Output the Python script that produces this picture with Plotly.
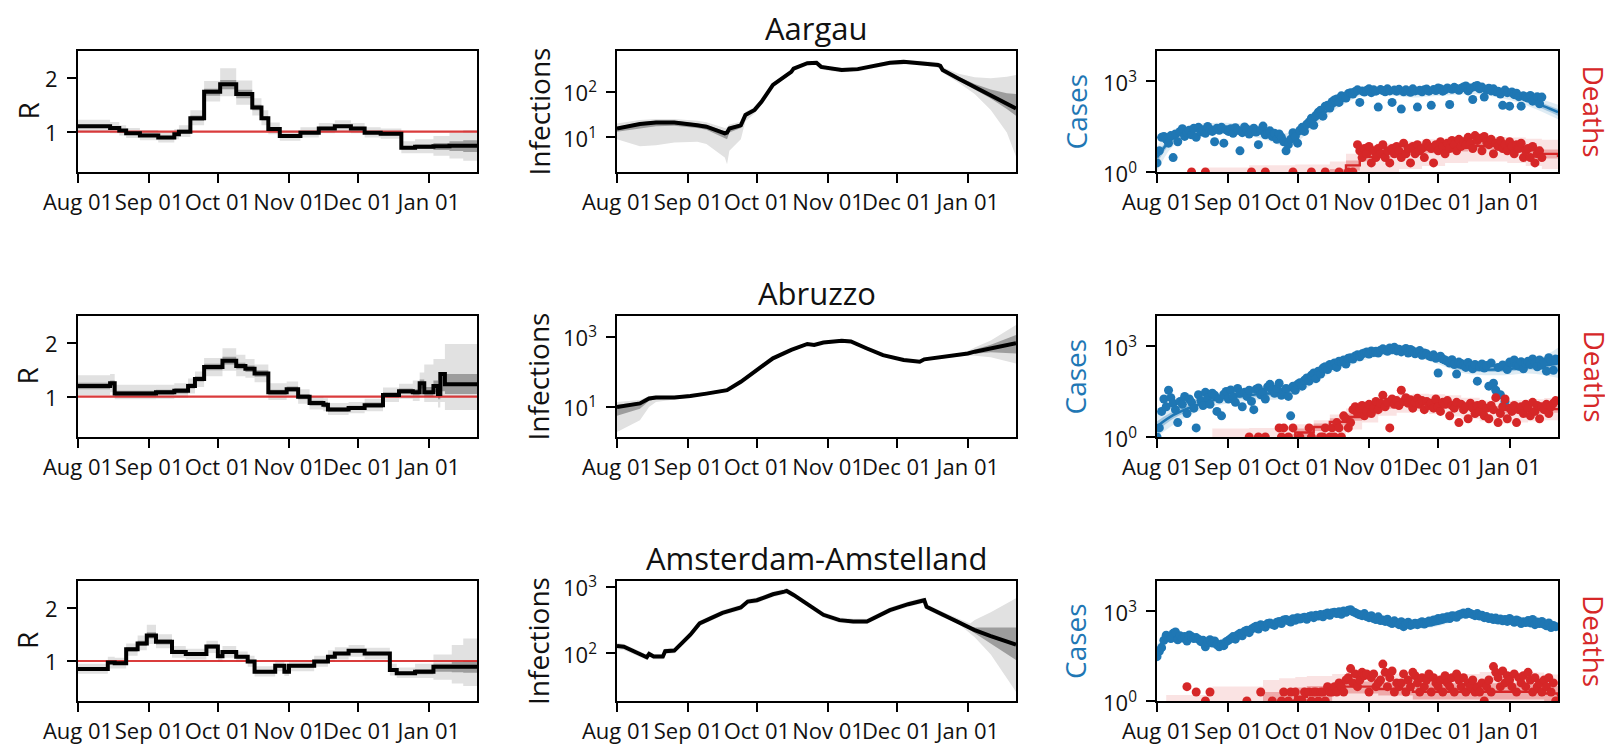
import numpy as np
import pandas as pd
import plotly.graph_objects as go

# ---------------------------------------------------------------- data
X_START, X_END = "2020-08-01", "2021-01-22"
month_ticks = ["2020-08-01", "2020-09-01", "2020-10-01", "2020-11-01", "2020-12-01", "2021-01-01"]
month_labels = ["Aug 01", "Sep 01", "Oct 01", "Nov 01", "Dec 01", "Jan 01"]
regions = ["Aargau", "Abruzzo", "Amsterdam-Amstelland"]
R_THRESHOLD = 1.0

# --- R (step knots: day offset from Aug 01)
aargau_R_day = [0, 14, 18, 21, 27, 35, 42, 44, 49, 55, 62, 69, 76, 80, 83, 88, 97, 105, 112, 119, 125, 132, 141, 147, 155, 162, 168, 174]
aargau_R_med = [1.10, 1.07, 1.02, 0.97, 0.93, 0.89, 0.95, 1.00, 1.25, 1.74, 1.88, 1.70, 1.45, 1.25, 1.05, 0.92, 0.98, 1.06, 1.10, 1.06, 0.98, 0.96, 0.70, 0.72, 0.73, 0.74, 0.74, 0.74]
aargau_R_hi95 = [1.22, 1.18, 1.12, 1.07, 1.03, 0.99, 1.05, 1.12, 1.40, 1.94, 2.18, 1.95, 1.62, 1.40, 1.17, 1.02, 1.08, 1.16, 1.21, 1.16, 1.08, 1.06, 0.82, 0.86, 0.92, 0.98, 1.03, 1.03]
aargau_R_lo95 = [0.99, 0.97, 0.93, 0.88, 0.84, 0.80, 0.86, 0.90, 1.12, 1.56, 1.66, 1.50, 1.30, 1.12, 0.95, 0.83, 0.89, 0.97, 1.00, 0.97, 0.89, 0.87, 0.60, 0.60, 0.55, 0.50, 0.46, 0.46]
aargau_R_hi50 = [1.13, 1.10, 1.05, 1.00, 0.96, 0.92, 0.98, 1.04, 1.30, 1.80, 1.96, 1.78, 1.50, 1.29, 1.08, 0.95, 1.01, 1.09, 1.13, 1.09, 1.01, 0.99, 0.73, 0.76, 0.79, 0.82, 0.84, 0.84]
aargau_R_lo50 = [1.07, 1.04, 0.99, 0.94, 0.90, 0.86, 0.92, 0.97, 1.20, 1.67, 1.79, 1.62, 1.40, 1.21, 1.02, 0.89, 0.95, 1.03, 1.07, 1.03, 0.95, 0.93, 0.67, 0.68, 0.66, 0.64, 0.62, 0.62]

abruzzo_R_day = [0, 14, 16, 34, 42, 48, 51, 55, 63, 69, 73, 77, 83, 91, 96, 101, 107, 109, 118, 125, 133, 140, 146, 149, 151, 155, 157, 158, 160, 168, 174]
abruzzo_R_med = [1.20, 1.25, 1.06, 1.08, 1.11, 1.20, 1.33, 1.55, 1.67, 1.57, 1.52, 1.43, 1.08, 1.14, 1.00, 0.88, 0.85, 0.76, 0.79, 0.84, 1.03, 1.10, 1.08, 1.25, 1.08, 1.20, 1.05, 1.42, 1.23, 1.23, 1.23]
abruzzo_R_hi95 = [1.40, 1.42, 1.22, 1.22, 1.25, 1.34, 1.47, 1.72, 1.90, 1.78, 1.70, 1.60, 1.25, 1.28, 1.14, 1.00, 0.97, 0.88, 0.90, 0.96, 1.17, 1.24, 1.30, 1.45, 1.60, 1.70, 1.70, 1.70, 1.98, 1.98, 1.98]
abruzzo_R_lo95 = [1.03, 1.08, 0.95, 0.96, 0.98, 1.06, 1.18, 1.38, 1.48, 1.38, 1.35, 1.27, 0.94, 1.00, 0.87, 0.76, 0.73, 0.66, 0.69, 0.73, 0.90, 0.96, 0.92, 1.00, 0.90, 0.90, 0.80, 0.90, 0.75, 0.75, 0.75]
abruzzo_R_hi50 = [1.26, 1.30, 1.11, 1.13, 1.16, 1.25, 1.38, 1.61, 1.74, 1.63, 1.58, 1.49, 1.13, 1.19, 1.05, 0.93, 0.90, 0.80, 0.83, 0.89, 1.08, 1.15, 1.14, 1.32, 1.18, 1.30, 1.20, 1.45, 1.42, 1.42, 1.42]
abruzzo_R_lo50 = [1.14, 1.19, 1.01, 1.03, 1.06, 1.15, 1.28, 1.49, 1.60, 1.51, 1.46, 1.37, 1.03, 1.09, 0.95, 0.83, 0.80, 0.72, 0.75, 0.79, 0.98, 1.05, 1.02, 1.15, 1.00, 1.08, 0.95, 1.10, 1.05, 1.05, 1.05]

amsterdam_R_day = [0, 13, 16, 21, 26, 30, 34, 41, 47, 56, 61, 63, 69, 74, 77, 86, 90, 92, 103, 109, 112, 118, 125, 136, 139, 147, 155, 163, 168, 174]
amsterdam_R_med = [0.85, 0.97, 0.96, 1.22, 1.33, 1.48, 1.36, 1.17, 1.13, 1.27, 1.09, 1.17, 1.08, 0.99, 0.80, 0.91, 0.80, 0.91, 0.99, 1.08, 1.14, 1.19, 1.14, 0.83, 0.77, 0.80, 0.89, 0.89, 0.89, 0.89]
amsterdam_R_hi95 = [0.95, 1.08, 1.06, 1.33, 1.48, 1.68, 1.50, 1.28, 1.23, 1.38, 1.20, 1.28, 1.18, 1.10, 0.90, 1.01, 0.92, 1.02, 1.10, 1.20, 1.26, 1.30, 1.25, 0.95, 0.88, 0.95, 1.12, 1.30, 1.42, 1.42]
amsterdam_R_lo95 = [0.76, 0.86, 0.86, 1.10, 1.20, 1.32, 1.24, 1.06, 1.03, 1.15, 0.98, 1.06, 0.98, 0.89, 0.71, 0.81, 0.72, 0.81, 0.89, 0.98, 1.03, 1.08, 1.03, 0.73, 0.68, 0.68, 0.65, 0.58, 0.53, 0.53]
amsterdam_R_hi50 = [0.88, 1.00, 0.99, 1.26, 1.38, 1.54, 1.41, 1.21, 1.16, 1.31, 1.12, 1.20, 1.11, 1.02, 0.83, 0.94, 0.83, 0.94, 1.02, 1.11, 1.17, 1.22, 1.17, 0.86, 0.80, 0.85, 0.95, 0.98, 1.00, 1.00]
amsterdam_R_lo50 = [0.82, 0.94, 0.93, 1.18, 1.28, 1.42, 1.31, 1.13, 1.10, 1.23, 1.06, 1.14, 1.05, 0.96, 0.77, 0.88, 0.77, 0.88, 0.96, 1.05, 1.11, 1.16, 1.11, 0.80, 0.74, 0.75, 0.80, 0.79, 0.78, 0.78]

# --- Infections (log10 values at knots)
aargau_inf_day = [0, 10, 17, 25, 35, 39, 47, 48, 49, 54, 56, 60, 63, 68, 76, 77, 83, 87, 89, 93, 98, 105, 112, 119, 125, 134, 140, 141, 142, 149, 156, 163, 170, 174]
aargau_inf_med = [1.19, 1.29, 1.32, 1.32, 1.26, 1.23, 1.08, 1.10, 1.19, 1.26, 1.49, 1.60, 1.78, 2.15, 2.44, 2.51, 2.63, 2.64, 2.55, 2.51, 2.48, 2.50, 2.57, 2.64, 2.66, 2.63, 2.59, 2.57, 2.48, 2.29, 2.10, 1.93, 1.74, 1.63]
aargau_inf_hi95 = [1.30, 1.38, 1.40, 1.40, 1.36, 1.33, 1.20, 1.21, 1.28, 1.34, 1.56, 1.66, 1.84, 2.20, 2.48, 2.56, 2.67, 2.68, 2.60, 2.56, 2.53, 2.55, 2.62, 2.68, 2.70, 2.68, 2.65, 2.63, 2.54, 2.40, 2.32, 2.30, 2.33, 2.37]
aargau_inf_lo95 = [0.95, 0.80, 0.82, 0.88, 0.90, 0.85, 0.55, 0.40, 0.70, 0.95, 1.35, 1.52, 1.72, 2.10, 2.39, 2.46, 2.58, 2.59, 2.50, 2.46, 2.43, 2.45, 2.52, 2.59, 2.61, 2.58, 2.53, 2.50, 2.42, 2.20, 1.95, 1.60, 1.10, 0.57]
aargau_inf_hi50 = [1.23, 1.33, 1.36, 1.36, 1.30, 1.27, 1.13, 1.14, 1.23, 1.30, 1.52, 1.63, 1.81, 2.18, 2.47, 2.54, 2.66, 2.67, 2.58, 2.54, 2.51, 2.53, 2.60, 2.67, 2.69, 2.66, 2.62, 2.60, 2.51, 2.33, 2.17, 2.05, 1.97, 1.95]
aargau_inf_lo50 = [1.12, 1.20, 1.24, 1.25, 1.20, 1.16, 0.98, 0.95, 1.10, 1.20, 1.45, 1.57, 1.75, 2.12, 2.41, 2.48, 2.60, 2.61, 2.52, 2.48, 2.45, 2.47, 2.54, 2.61, 2.63, 2.60, 2.56, 2.54, 2.45, 2.25, 2.04, 1.85, 1.62, 1.47]

abruzzo_inf_day = [0, 10, 14, 17, 25, 32, 39, 48, 54, 61, 68, 76, 83, 86, 90, 98, 102, 109, 116, 125, 132, 134, 141, 149, 153, 156, 163, 174]
abruzzo_inf_med = [1.00, 1.10, 1.24, 1.27, 1.27, 1.31, 1.38, 1.48, 1.72, 2.05, 2.39, 2.63, 2.80, 2.77, 2.84, 2.89, 2.87, 2.67, 2.48, 2.34, 2.29, 2.36, 2.42, 2.48, 2.53, 2.58, 2.67, 2.82]
abruzzo_inf_hi95 = [1.14, 1.20, 1.31, 1.33, 1.32, 1.36, 1.43, 1.53, 1.77, 2.09, 2.43, 2.67, 2.84, 2.81, 2.88, 2.93, 2.91, 2.71, 2.52, 2.38, 2.33, 2.40, 2.46, 2.52, 2.60, 2.70, 2.90, 3.34]
abruzzo_inf_lo95 = [0.28, 0.62, 1.00, 1.14, 1.21, 1.26, 1.33, 1.43, 1.67, 2.00, 2.35, 2.59, 2.76, 2.73, 2.80, 2.85, 2.83, 2.63, 2.44, 2.30, 2.25, 2.32, 2.38, 2.44, 2.47, 2.46, 2.42, 2.24]
abruzzo_inf_hi50 = [1.06, 1.14, 1.27, 1.30, 1.30, 1.34, 1.41, 1.51, 1.75, 2.08, 2.42, 2.66, 2.83, 2.80, 2.87, 2.92, 2.90, 2.70, 2.51, 2.37, 2.32, 2.39, 2.45, 2.51, 2.56, 2.64, 2.78, 3.06]
abruzzo_inf_lo50 = [0.75, 0.95, 1.18, 1.22, 1.24, 1.28, 1.35, 1.45, 1.69, 2.02, 2.36, 2.60, 2.77, 2.74, 2.81, 2.86, 2.84, 2.64, 2.45, 2.31, 2.26, 2.33, 2.39, 2.45, 2.50, 2.52, 2.56, 2.53]

amsterdam_inf_day = [0, 3, 13, 14, 16, 20, 21, 25, 32, 36, 41, 46, 54, 57, 61, 68, 73, 74, 77, 83, 90, 97, 103, 109, 112, 119, 127, 134, 135, 141, 149, 154, 156, 163, 174]
amsterdam_inf_med = [2.11, 2.10, 1.94, 1.99, 1.95, 1.95, 2.03, 2.04, 2.28, 2.45, 2.53, 2.61, 2.69, 2.78, 2.80, 2.89, 2.93, 2.94, 2.88, 2.74, 2.58, 2.50, 2.48, 2.48, 2.53, 2.65, 2.74, 2.80, 2.70, 2.60, 2.48, 2.38, 2.35, 2.26, 2.13]
amsterdam_inf_hi95 = [2.16, 2.14, 1.98, 2.03, 1.99, 1.99, 2.07, 2.08, 2.32, 2.49, 2.57, 2.65, 2.73, 2.82, 2.84, 2.93, 2.97, 2.98, 2.92, 2.78, 2.62, 2.54, 2.52, 2.52, 2.57, 2.69, 2.78, 2.84, 2.74, 2.64, 2.52, 2.45, 2.50, 2.62, 2.83]
amsterdam_inf_lo95 = [2.06, 2.05, 1.90, 1.95, 1.91, 1.91, 1.99, 2.00, 2.24, 2.41, 2.49, 2.57, 2.65, 2.74, 2.76, 2.85, 2.89, 2.90, 2.84, 2.70, 2.54, 2.46, 2.44, 2.44, 2.49, 2.61, 2.70, 2.76, 2.66, 2.56, 2.44, 2.30, 2.24, 1.98, 1.42]
amsterdam_inf_hi50 = [2.13, 2.12, 1.96, 2.01, 1.97, 1.97, 2.05, 2.06, 2.30, 2.47, 2.55, 2.63, 2.71, 2.80, 2.82, 2.91, 2.95, 2.96, 2.90, 2.76, 2.60, 2.52, 2.50, 2.50, 2.55, 2.67, 2.76, 2.82, 2.72, 2.62, 2.50, 2.39, 2.39, 2.39, 2.39]
amsterdam_inf_lo50 = [2.09, 2.08, 1.92, 1.97, 1.93, 1.93, 2.01, 2.02, 2.26, 2.43, 2.51, 2.59, 2.67, 2.76, 2.78, 2.87, 2.91, 2.92, 2.86, 2.72, 2.56, 2.48, 2.46, 2.46, 2.51, 2.63, 2.72, 2.78, 2.68, 2.58, 2.46, 2.35, 2.30, 2.14, 1.90]

# --- Fitted cases (log10 at knots)
aargau_cfit_day = [0, 6, 13, 24, 39, 47, 56, 60, 67, 75, 82, 89, 96, 104, 111, 118, 125, 132, 140, 147, 154, 161, 168, 174]
aargau_cfit_med = [0.48, 1.05, 1.32, 1.43, 1.38, 1.27, 1.05, 1.16, 1.60, 2.09, 2.43, 2.65, 2.68, 2.65, 2.61, 2.65, 2.68, 2.72, 2.72, 2.65, 2.54, 2.37, 2.17, 1.98]
aargau_cfit_hi95 = [0.85, 1.30, 1.52, 1.62, 1.58, 1.48, 1.28, 1.38, 1.80, 2.25, 2.58, 2.78, 2.82, 2.80, 2.77, 2.80, 2.84, 2.88, 2.88, 2.82, 2.72, 2.56, 2.38, 2.22]
aargau_cfit_lo95 = [0.00, 0.78, 1.12, 1.25, 1.20, 1.07, 0.83, 0.95, 1.40, 1.92, 2.28, 2.52, 2.55, 2.51, 2.46, 2.50, 2.53, 2.57, 2.56, 2.48, 2.36, 2.18, 1.96, 1.74]
aargau_cfit_hi50 = [0.62, 1.15, 1.40, 1.51, 1.46, 1.35, 1.14, 1.25, 1.68, 2.16, 2.50, 2.71, 2.74, 2.72, 2.68, 2.72, 2.75, 2.79, 2.79, 2.72, 2.62, 2.46, 2.26, 2.08]
aargau_cfit_lo50 = [0.30, 0.94, 1.24, 1.35, 1.30, 1.19, 0.96, 1.07, 1.52, 2.02, 2.36, 2.58, 2.62, 2.58, 2.54, 2.58, 2.61, 2.65, 2.65, 2.58, 2.46, 2.28, 2.07, 1.86]

abruzzo_cfit_day = [0, 7, 17, 24, 32, 39, 46, 53, 60, 68, 75, 82, 89, 96, 104, 111, 118, 125, 132, 140, 147, 154, 161, 168, 174]
abruzzo_cfit_med = [0.35, 0.72, 1.05, 1.21, 1.32, 1.38, 1.43, 1.46, 1.60, 1.93, 2.26, 2.48, 2.67, 2.81, 2.89, 2.81, 2.67, 2.48, 2.29, 2.23, 2.23, 2.26, 2.34, 2.36, 2.43]
abruzzo_cfit_hi95 = [0.80, 1.00, 1.28, 1.42, 1.52, 1.58, 1.63, 1.68, 1.80, 2.10, 2.42, 2.64, 2.82, 2.96, 3.04, 2.96, 2.82, 2.64, 2.46, 2.41, 2.41, 2.45, 2.55, 2.68, 2.95]
abruzzo_cfit_lo95 = [0.00, 0.40, 0.82, 1.00, 1.12, 1.18, 1.23, 1.25, 1.40, 1.75, 2.10, 2.32, 2.52, 2.66, 2.74, 2.66, 2.52, 2.32, 2.12, 2.05, 2.04, 2.06, 2.10, 2.05, 1.95]
abruzzo_cfit_hi50 = [0.52, 0.84, 1.15, 1.30, 1.41, 1.47, 1.52, 1.55, 1.69, 2.01, 2.34, 2.56, 2.74, 2.88, 2.96, 2.88, 2.74, 2.56, 2.37, 2.31, 2.31, 2.35, 2.44, 2.50, 2.65]
abruzzo_cfit_lo50 = [0.18, 0.60, 0.95, 1.12, 1.23, 1.29, 1.34, 1.37, 1.51, 1.85, 2.18, 2.40, 2.60, 2.74, 2.82, 2.74, 2.60, 2.40, 2.21, 2.15, 2.15, 2.17, 2.23, 2.22, 2.22]

amsterdam_cfit_day = [0, 4, 10, 17, 24, 29, 33, 39, 46, 53, 60, 68, 75, 82, 85, 89, 96, 104, 111, 118, 125, 132, 137, 142, 154, 161, 174]
amsterdam_cfit_med = [1.70, 2.08, 2.14, 2.08, 1.97, 1.86, 2.03, 2.30, 2.52, 2.69, 2.75, 2.82, 2.89, 2.97, 3.00, 2.86, 2.71, 2.60, 2.49, 2.52, 2.64, 2.80, 2.86, 2.78, 2.64, 2.58, 2.47]
amsterdam_cfit_hi95 = [1.88, 2.18, 2.22, 2.16, 2.05, 1.95, 2.11, 2.38, 2.60, 2.77, 2.83, 2.90, 2.97, 3.05, 3.08, 2.94, 2.79, 2.68, 2.57, 2.60, 2.72, 2.88, 2.94, 2.86, 2.72, 2.67, 2.58]
amsterdam_cfit_lo95 = [1.50, 1.95, 2.05, 2.00, 1.89, 1.78, 1.95, 2.22, 2.44, 2.61, 2.67, 2.74, 2.81, 2.89, 2.92, 2.78, 2.63, 2.52, 2.41, 2.44, 2.56, 2.72, 2.78, 2.70, 2.55, 2.48, 2.34]
amsterdam_cfit_hi50 = [1.78, 2.13, 2.18, 2.12, 2.01, 1.90, 2.07, 2.34, 2.56, 2.73, 2.79, 2.86, 2.93, 3.01, 3.04, 2.90, 2.75, 2.64, 2.53, 2.56, 2.68, 2.84, 2.90, 2.82, 2.68, 2.62, 2.52]
amsterdam_cfit_lo50 = [1.61, 2.02, 2.10, 2.04, 1.93, 1.82, 1.99, 2.26, 2.48, 2.65, 2.71, 2.78, 2.85, 2.93, 2.96, 2.82, 2.67, 2.56, 2.45, 2.48, 2.60, 2.76, 2.82, 2.74, 2.59, 2.53, 2.41]

# --- Fitted deaths (log10 at step knots)
aargau_dfit_day = [20, 40, 60, 75, 82, 88, 95, 105, 115, 125, 135, 145, 152, 160, 167, 174]
aargau_dfit_med = [-1.0, -0.8, -0.6, -0.3, 0.22, 0.50, 0.62, 0.68, 0.74, 0.80, 0.86, 0.88, 0.82, 0.72, 0.60, 0.50]
aargau_dfit_hi95 = [0.15, 0.22, 0.25, 0.35, 0.60, 0.80, 0.94, 1.02, 1.08, 1.13, 1.16, 1.16, 1.14, 1.10, 1.07, 1.05]
aargau_dfit_lo95 = [-2.0, -2.0, -2.0, -1.5, -0.5, -0.2, 0.0, 0.1, 0.2, 0.3, 0.35, 0.35, 0.3, 0.2, 0.1, 0.0]
aargau_dfit_hi50 = [-0.5, -0.3, -0.1, 0.1, 0.38, 0.62, 0.75, 0.80, 0.85, 0.90, 0.96, 0.98, 0.94, 0.84, 0.74, 0.66]
aargau_dfit_lo50 = [-1.5, -1.3, -1.1, -0.7, 0.05, 0.35, 0.48, 0.55, 0.62, 0.68, 0.74, 0.76, 0.70, 0.58, 0.45, 0.35]

abruzzo_dfit_day = [24, 40, 53, 60, 68, 75, 82, 89, 96, 104, 111, 118, 125, 132, 140, 147, 154, 161, 168, 174]
abruzzo_dfit_med = [-0.8, -0.5, -0.1, 0.15, 0.33, 0.50, 0.66, 0.86, 1.05, 1.14, 1.19, 1.12, 1.05, 1.00, 0.94, 0.90, 0.88, 0.90, 0.92, 0.94]
abruzzo_dfit_hi95 = [0.28, 0.30, 0.33, 0.42, 0.55, 0.74, 0.94, 1.14, 1.32, 1.40, 1.43, 1.41, 1.38, 1.30, 1.21, 1.20, 1.22, 1.25, 1.29, 1.32]
abruzzo_dfit_lo95 = [-2.0, -2.0, -1.0, -0.6, -0.3, 0.0, 0.25, 0.48, 0.70, 0.80, 0.85, 0.76, 0.68, 0.60, 0.52, 0.45, 0.48, 0.52, 0.55, 0.56]
abruzzo_dfit_hi50 = [-0.4, -0.2, 0.1, 0.28, 0.45, 0.62, 0.78, 0.98, 1.17, 1.26, 1.31, 1.24, 1.17, 1.12, 1.06, 1.02, 1.00, 1.02, 1.04, 1.06]
abruzzo_dfit_lo50 = [-1.2, -0.9, -0.4, -0.05, 0.20, 0.38, 0.54, 0.74, 0.93, 1.02, 1.07, 1.00, 0.93, 0.88, 0.82, 0.78, 0.76, 0.78, 0.80, 0.82]

amsterdam_dfit_day = [4, 24, 46, 53, 60, 65, 76, 82, 96, 111, 125, 140, 154, 168, 174]
amsterdam_dfit_med = [-1.0, -0.6, -0.2, 0.0, 0.14, 0.25, 0.48, 0.48, 0.40, 0.31, 0.31, 0.31, 0.31, 0.25, 0.14]
amsterdam_dfit_hi95 = [0.20, 0.48, 0.70, 0.76, 0.80, 0.83, 0.90, 0.97, 0.92, 0.86, 0.90, 0.97, 0.95, 0.88, 0.86]
amsterdam_dfit_lo95 = [-3.0, -2.0, -1.5, -1.0, -0.7, -0.5, -0.2, -0.1, -0.15, -0.2, -0.2, -0.2, -0.2, -0.3, -0.4]
amsterdam_dfit_hi50 = [-0.4, 0.0, 0.30, 0.38, 0.45, 0.50, 0.60, 0.65, 0.62, 0.59, 0.59, 0.59, 0.58, 0.50, 0.45]
amsterdam_dfit_lo50 = [-1.6, -1.2, -0.7, -0.5, -0.2, 0.0, 0.2, 0.25, 0.18, 0.05, 0.05, 0.05, 0.05, 0.0, -0.1]

# --- Daily observed counts (day 0 = Aug 01)
aargau_cases = [
    2, 5, 14, 15, 12, 9, 16, 3, 18, 10, 22, 27, 15, 20,
    24, 17, 28, 14, 30, 21, 25, 19, 32, 26, 22, 10, 28, 24,
    30, 9, 25, 22, 27, 19, 29, 24, 5, 20, 31, 26, 18, 22,
    28, 21, 8, 24, 33, 17, 20, 23, 15, 19, 12, 18, 14, 10,
    5, 8, 12, 20, 15, 9, 24, 30, 22, 38, 45, 60, 35, 75,
    95, 110, 70, 150, 160, 130, 210, 240, 260, 200, 330, 300, 280, 390,
    420, 380, 460, 520, 200, 480, 440, 500, 560, 420, 520, 470, 140, 530,
    490, 450, 560, 480, 200, 510, 470, 540, 120, 450, 520, 470, 430, 560,
    480, 140, 500, 450, 520, 550, 470, 160, 530, 490, 600, 560, 470, 520,
    600, 170, 540, 630, 570, 500, 590, 650, 700, 480, 600, 250, 680, 720,
    560, 640, 300, 520, 590, 480, 560, 450, 470, 380, 160, 510, 420, 150,
    440, 360, 400, 310, 150, 330, 300, 280, 340, 220, 270, 310, 180, 300]
aargau_deaths = [
    0, 0, 0, 0, 0, 0, 0, 0, 0, 0, 0, 0, 0, 0,
    0, 1, 0, 0, 0, 0, 0, 1, 0, 0, 0, 0, 0, 0,
    0, 0, 0, 0, 0, 0, 0, 0, 0, 0, 0, 0, 0, 1,
    0, 0, 0, 0, 0, 1, 0, 0, 0, 0, 0, 0, 0, 0,
    0, 0, 0, 1, 0, 0, 0, 0, 0, 0, 0, 1, 0, 0,
    0, 0, 0, 1, 0, 0, 0, 0, 0, 1, 0, 0, 0, 1,
    0, 1, 0, 8, 5, 3, 6, 4, 7, 2, 5, 3, 6, 4,
    8, 3, 5, 2, 6, 4, 7, 5, 3, 9, 4, 6, 2, 7,
    4, 8, 5, 6, 3, 9, 7, 6, 2, 8, 5, 10, 7, 4,
    9, 6, 11, 8, 5, 12, 7, 10, 8, 14, 9, 6, 16, 11,
    13, 5, 15, 10, 8, 12, 4, 9, 7, 11, 6, 8, 5, 10,
    7, 4, 8, 6, 9, 3, 5, 6, 3, 7, 2, 4, 5, 3]

abruzzo_cases = [
    1, 2, 7, 18, 10, 35, 20, 13, 8, 3, 15, 12, 22, 6,
    18, 14, 9, 2, 25, 16, 11, 30, 20, 12, 28, 24, 7, 18,
    5, 26, 32, 18, 36, 22, 14, 40, 28, 10, 30, 22, 35, 15,
    8, 38, 42, 25, 30, 18, 45, 55, 35, 28, 40, 60, 24, 32,
    40, 22, 5, 48, 35, 55, 62, 48, 75, 90, 70, 110, 130, 85,
    150, 120, 190, 210, 170, 250, 230, 280, 200, 320, 300, 350, 260, 400,
    420, 380, 480, 520, 450, 560, 600, 640, 550, 700, 620, 680, 600, 740,
    820, 750, 680, 880, 760, 920, 700, 800, 650, 740, 850, 600, 780, 700,
    560, 650, 720, 500, 600, 560, 480, 450, 520, 400, 130, 470, 380, 350,
    320, 280, 360, 250, 120, 300, 270, 240, 200, 290, 220, 180, 250, 70,
    210, 260, 190, 230, 48, 280, 60, 35, 200, 25, 240, 15, 170, 300,
    280, 350, 230, 220, 310, 180, 270, 320, 250, 380, 290, 210, 350, 240,
    300, 150, 420, 330, 160, 380]
abruzzo_deaths = [
    0, 0, 0, 0, 0, 0, 0, 0, 0, 0, 0, 0, 0, 0,
    0, 0, 0, 0, 0, 0, 0, 0, 0, 0, 0, 0, 0, 0,
    0, 0, 0, 0, 0, 0, 0, 0, 0, 0, 0, 0, 1, 0,
    0, 0, 1, 0, 0, 1, 0, 0, 0, 0, 0, 2, 1, 2,
    0, 1, 0, 2, 0, 0, 1, 0, 0, 0, 2, 1, 0, 0,
    0, 1, 1, 2, 0, 1, 2, 1, 3, 2, 1, 5, 4, 2,
    3, 8, 10, 6, 9, 11, 5, 7, 12, 6, 9, 15, 8, 13,
    24, 10, 14, 2, 18, 12, 16, 11, 35, 15, 20, 13, 17, 9,
    14, 19, 12, 16, 8, 15, 11, 13, 9, 18, 10, 7, 14, 12,
    16, 5, 11, 9, 14, 3, 12, 8, 10, 4, 13, 9, 6, 11,
    7, 12, 5, 9, 4, 11, 8, 20, 3, 6, 10, 18, 4, 9,
    7, 11, 3, 8, 10, 6, 12, 9, 5, 14, 7, 11, 4, 10,
    8, 12, 6, 10, 13, 16]

amsterdam_cases = [
    30, 45, 60, 106, 155, 130, 120, 180, 200, 110, 150, 125, 140, 100,
    160, 140, 120, 130, 115, 95, 105, 64, 90, 110, 85, 100, 75, 64,
    80, 70, 95, 105, 120, 140, 115, 160, 180, 150, 210, 230, 190, 250,
    280, 310, 250, 350, 330, 290, 380, 400, 360, 330, 420, 450, 380, 500,
    520, 470, 430, 550, 490, 600, 540, 580, 620, 530, 650, 700, 600, 720,
    680, 760, 640, 800, 850, 720, 880, 900, 820, 950, 780, 1000, 900, 1050,
    1100, 950, 880, 800, 750, 700, 820, 650, 600, 700, 560, 520, 640, 480,
    500, 450, 530, 420, 380, 470, 400, 350, 440, 300, 380, 420, 330, 360,
    390, 350, 400, 440, 370, 420, 460, 430, 500, 480, 560, 520, 600, 580,
    640, 560, 700, 680, 620, 750, 800, 850, 780, 900, 820, 760, 700, 820,
    680, 720, 600, 650, 560, 600, 520, 580, 500, 540, 470, 520, 450, 560,
    480, 420, 500, 460, 380, 440, 410, 480, 400, 520, 350, 430, 380, 450,
    360, 320, 400, 280, 330, 300]
amsterdam_deaths = [
    0, 0, 0, 0, 0, 0, 0, 0, 0, 0, 0, 0, 0, 3,
    0, 0, 0, 2, 0, 0, 0, 1, 0, 2, 0, 0, 0, 0,
    0, 0, 0, 0, 0, 0, 0, 0, 0, 0, 0, 1, 0, 0,
    0, 0, 0, 2, 0, 0, 0, 0, 1, 0, 0, 0, 1, 2,
    0, 1, 2, 0, 2, 1, 0, 1, 2, 0, 2, 1, 2, 2,
    1, 2, 2, 1, 3, 2, 2, 3, 2, 4, 3, 2, 5, 6,
    12, 4, 8, 3, 5, 9, 7, 8, 2, 6, 8, 3, 4, 5,
    17, 9, 3, 6, 10, 2, 4, 3, 4, 8, 2, 5, 3, 9,
    7, 4, 2, 6, 3, 5, 8, 2, 6, 4, 3, 5, 2, 7,
    4, 3, 6, 2, 8, 5, 3, 6, 2, 4, 3, 5, 2, 3,
    2, 4, 1, 3, 5, 2, 14, 9, 6, 3, 10, 4, 7, 5,
    3, 8, 2, 6, 4, 7, 3, 9, 5, 2, 6, 3, 4, 2,
    5, 3, 6, 2, 4, 1]

# axis settings per row
inf_yrange = [[0.23, 2.9], [0.14, 3.6], [1.28, 3.09]]
inf_yticks = [[10, 100], [10, 1000], [100, 1000]]
inf_yticktext = [["10<sup>1</sup>", "10<sup>2</sup>"], ["10<sup>1</sup>", "10<sup>3</sup>"], ["10<sup>2</sup>", "10<sup>3</sup>"]]
R_yrange = [0.25, 2.5]
R_yticks, R_yticktext = [1, 2], ["1", "2"]
cases_yrange = [0, 4]
cases_yticks, cases_yticktext = [1, 1000], ["10<sup>0</sup>", "10<sup>3</sup>"]

R_sets = [
    (aargau_R_day, aargau_R_med, aargau_R_lo95, aargau_R_hi95, aargau_R_lo50, aargau_R_hi50),
    (abruzzo_R_day, abruzzo_R_med, abruzzo_R_lo95, abruzzo_R_hi95, abruzzo_R_lo50, abruzzo_R_hi50),
    (amsterdam_R_day, amsterdam_R_med, amsterdam_R_lo95, amsterdam_R_hi95, amsterdam_R_lo50, amsterdam_R_hi50),
]
inf_sets = [
    (aargau_inf_day, aargau_inf_med, aargau_inf_lo95, aargau_inf_hi95, aargau_inf_lo50, aargau_inf_hi50),
    (abruzzo_inf_day, abruzzo_inf_med, abruzzo_inf_lo95, abruzzo_inf_hi95, abruzzo_inf_lo50, abruzzo_inf_hi50),
    (amsterdam_inf_day, amsterdam_inf_med, amsterdam_inf_lo95, amsterdam_inf_hi95, amsterdam_inf_lo50, amsterdam_inf_hi50),
]
cfit_sets = [
    (aargau_cfit_day, aargau_cfit_med, aargau_cfit_lo95, aargau_cfit_hi95, aargau_cfit_lo50, aargau_cfit_hi50),
    (abruzzo_cfit_day, abruzzo_cfit_med, abruzzo_cfit_lo95, abruzzo_cfit_hi95, abruzzo_cfit_lo50, abruzzo_cfit_hi50),
    (amsterdam_cfit_day, amsterdam_cfit_med, amsterdam_cfit_lo95, amsterdam_cfit_hi95, amsterdam_cfit_lo50, amsterdam_cfit_hi50),
]
dfit_sets = [
    (aargau_dfit_day, aargau_dfit_med, aargau_dfit_lo95, aargau_dfit_hi95, aargau_dfit_lo50, aargau_dfit_hi50),
    (abruzzo_dfit_day, abruzzo_dfit_med, abruzzo_dfit_lo95, abruzzo_dfit_hi95, abruzzo_dfit_lo50, abruzzo_dfit_hi50),
    (amsterdam_dfit_day, amsterdam_dfit_med, amsterdam_dfit_lo95, amsterdam_dfit_hi95, amsterdam_dfit_lo50, amsterdam_dfit_hi50),
]
obs_sets = [(aargau_cases, aargau_deaths), (abruzzo_cases, abruzzo_deaths), (amsterdam_cases, amsterdam_deaths)]

# ---------------------------------------------------------------- style
W, H = 1613, 746
OFF = 8  # page body margin in the browser
COL_PX = [(78, 477), (617, 1016), (1157, 1558)]
ROW_PX = [(51, 172), (316, 437), (581, 701)]
YLABEL_GAP = 19
FONT = "'Open Sans', Lato, sans-serif"
TXT = "#111111"
BLUE, RED = "#1f77b4", "#d62728"
GRAY_LIGHT, GRAY_DARK = "#e1e1e1", "#9d9d9d"
BLUE_LIGHT, BLUE_DARK = "rgba(31,119,180,0.14)", "rgba(31,119,180,0.32)"
RED_LIGHT, RED_DARK = "rgba(214,39,40,0.13)", "rgba(214,39,40,0.30)"

START = pd.Timestamp(X_START)


def px_x(x):
    return (x - OFF) / W


def px_y(y):
    return 1 - (y - OFF) / H


def knot_dates(days):
    return START + pd.to_timedelta(np.asarray(days), unit="D")


def daily_dates(values):
    return pd.date_range(X_START, periods=len(values), freq="D")


def from_log(vals):
    return np.power(10.0, np.asarray(vals, dtype=float))


def positive(vals):
    return [v if v > 0 else None for v in vals]


fig = go.Figure()


def band(xa, ya, x, lo, hi, color, shape):
    fig.add_trace(go.Scatter(x=x, y=lo, mode="lines", line=dict(width=0, shape=shape),
                             hoverinfo="skip", showlegend=False, xaxis=xa, yaxis=ya))
    fig.add_trace(go.Scatter(x=x, y=hi, mode="lines", line=dict(width=0, shape=shape),
                             fill="tonexty", fillcolor=color, hoverinfo="skip",
                             showlegend=False, xaxis=xa, yaxis=ya))


def line(xa, ya, x, y, color, width, shape, opacity=1.0):
    fig.add_trace(go.Scatter(x=x, y=y, mode="lines", line=dict(color=color, width=width, shape=shape),
                             opacity=opacity, hoverinfo="skip", showlegend=False, xaxis=xa, yaxis=ya))


def dots(xa, ya, x, y, color):
    fig.add_trace(go.Scatter(x=x, y=y, mode="markers", marker=dict(color=color, size=9, line=dict(width=0)),
                             hoverinfo="skip", showlegend=False, xaxis=xa, yaxis=ya))


for r in range(3):
    # R panel
    k = r * 3 + 1
    xa, ya = f"x{k}" if k > 1 else "x", f"y{k}" if k > 1 else "y"
    d, med, lo95, hi95, lo50, hi50 = R_sets[r]
    xd = knot_dates(d)
    band(xa, ya, xd, lo95, hi95, GRAY_LIGHT, "hv")
    band(xa, ya, xd, lo50, hi50, GRAY_DARK, "hv")
    line(xa, ya, [X_START, X_END], [R_THRESHOLD, R_THRESHOLD], RED, 2.2, "linear", 0.9)
    line(xa, ya, xd, med, "black", 4, "hv")

    # Infections panel
    k = r * 3 + 2
    xa, ya = f"x{k}", f"y{k}"
    d, med, lo95, hi95, lo50, hi50 = inf_sets[r]
    xd = knot_dates(d)
    band(xa, ya, xd, from_log(lo95), from_log(hi95), GRAY_LIGHT, "linear")
    band(xa, ya, xd, from_log(lo50), from_log(hi50), GRAY_DARK, "linear")
    line(xa, ya, xd, from_log(med), "black", 4, "linear")

    # Cases / deaths panel
    k = r * 3 + 3
    xa, ya = f"x{k}", f"y{k}"
    d, med, lo95, hi95, lo50, hi50 = cfit_sets[r]
    xc = knot_dates(d)
    band(xa, ya, xc, from_log(lo95), from_log(hi95), BLUE_LIGHT, "spline")
    band(xa, ya, xc, from_log(lo50), from_log(hi50), BLUE_DARK, "spline")
    dd, dmed, dlo95, dhi95, dlo50, dhi50 = dfit_sets[r]
    xdd = knot_dates(dd)
    band(xa, ya, xdd, from_log(dlo95), from_log(dhi95), RED_LIGHT, "hv")
    band(xa, ya, xdd, from_log(dlo50), from_log(dhi50), RED_DARK, "hv")
    line(xa, ya, xc, from_log(med), BLUE, 2.6, "spline")
    line(xa, ya, xdd, from_log(dmed), RED, 2.4, "hv")
    cases, deaths = obs_sets[r]
    dots(xa, ya, daily_dates(cases), positive(cases), BLUE)
    dots(xa, ya, daily_dates(deaths), positive(deaths), RED)

# ---------------------------------------------------------------- layout
axis_common = dict(showline=True, linecolor="black", linewidth=2.4, mirror=True,
                   ticks="outside", ticklen=9, tickwidth=2, tickcolor="black", automargin=False,
                   showgrid=False, zeroline=False, tickangle=0,
                   tickfont=dict(size=22, color=TXT, family=FONT))

layout = dict(width=W, height=H, margin=dict(l=0, r=0, t=0, b=0, pad=0, autoexpand=False),
              plot_bgcolor="white", paper_bgcolor="white", showlegend=False,
              font=dict(family=FONT, size=22, color=TXT))

annotations = []
for r in range(3):
    for c in range(3):
        k = r * 3 + c + 1
        s = "" if k == 1 else str(k)
        x0, x1 = COL_PX[c]
        y0, y1 = ROW_PX[r]
        layout["xaxis" + s] = dict(domain=[px_x(x0), px_x(x1)], anchor="y" + s, type="date",
                                   range=[X_START, X_END], tickvals=month_ticks, ticktext=month_labels,
                                   **axis_common)
        if c == 0:
            yc = dict(range=R_yrange, tickvals=R_yticks)
            labels, is_log = list(zip(R_yticks, R_yticktext)), False
        elif c == 1:
            yc = dict(type="log", range=inf_yrange[r], tickvals=inf_yticks[r])
            labels, is_log = list(zip(inf_yticks[r], inf_yticktext[r])), True
        else:
            yc = dict(type="log", range=cases_yrange, tickvals=cases_yticks)
            labels, is_log = list(zip(cases_yticks, cases_yticktext)), True
        layout["yaxis" + s] = dict(domain=[px_y(y1), px_y(y0)], anchor="x" + s,
                                   showticklabels=False, **yc, **axis_common)
        # y tick labels placed as text next to the ticks (position in axis data units)
        for val, txt in labels:
            annotations.append(dict(text=txt, x=px_x(x0 - YLABEL_GAP), xref="paper",
                                    y=float(np.log10(val)) if is_log else val, yref="y" + s,
                                    xanchor="right", yanchor="middle", showarrow=False, borderpad=0,
                                    font=dict(size=22, color=TXT, family=FONT)))

for r in range(3):
    y0, y1 = ROW_PX[r]
    ymid = px_y((y0 + y1) / 2)
    annotations.append(dict(text=regions[r], x=px_x((COL_PX[1][0] + COL_PX[1][1]) / 2), y=px_y(y0 - 23),
                            xref="paper", yref="paper", xanchor="center", yanchor="middle",
                            showarrow=False, font=dict(size=31, color=TXT, family=FONT)))
    for txt, xp, col, ang in [("R", 27, TXT, -90), ("Infections", 538, TXT, -90),
                              ("Cases", 1075, BLUE, -90), ("Deaths", 1594, RED, 90)]:
        annotations.append(dict(text=txt, x=px_x(xp), y=ymid, xref="paper", yref="paper",
                                xanchor="center", yanchor="middle", textangle=ang, showarrow=False,
                                font=dict(size=28, color=col, family=FONT)))
layout["annotations"] = annotations

fig.update_layout(**layout)
fig.write_html("out.html")
